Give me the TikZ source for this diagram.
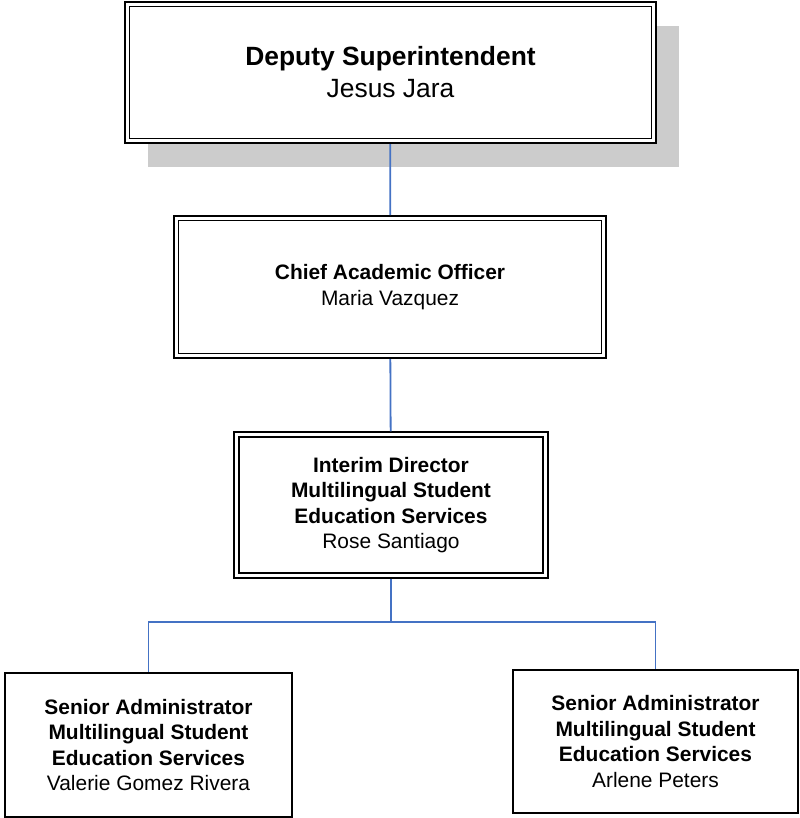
\documentclass[tikz,border=0pt]{standalone}
\usepackage{fontspec}
\setmainfont{Liberation Sans}
\usetikzlibrary{calc, shadows}
\definecolor{linkblue}{RGB}{68,114,196}
\tikzset{box/.style={shape=rectangle, draw, fill=white, align=center,
    line width=1.3bp, inner sep=2bp, font=\fontsize{21}{25.7}\selectfont}}
\tikzset{dbox/.style={box, line width=2bp,
    path picture={\draw[line width=1bp]
      ($(path picture bounding box.north west)+(4.5bp,-4.5bp)$) rectangle
      ($(path picture bounding box.south east)+(-4.5bp,4.5bp)$);}}}
\tikzset{dboxeven/.style={box, line width=1.5bp,
    path picture={\draw[line width=1.8bp]
      ($(path picture bounding box.north west)+(4.8bp,-4.8bp)$) rectangle
      ($(path picture bounding box.south east)+(-4.8bp,4.8bp)$);}}}
\tikzset{link/.style={draw=linkblue, line width=1.8bp}}

\begin{document}
\begin{tikzpicture}[x=1bp, y=1bp]
  \useasboundingbox (0,0) rectangle (800,-818);
  \node[dbox, minimum width=531bp, minimum height=141bp,
    font=\fontsize{26.5}{32}\selectfont,
    drop shadow={shadow xshift=23bp, shadow yshift=-24bp, fill=black!20, opacity=1}]
    (deputy) at (390.5,-72.5) {\textbf{Deputy Superintendent}\\Jesus Jara};
  \node[dbox, minimum width=432bp, minimum height=142bp]
    (chief) at (390,-287) {\textbf{Chief Academic Officer}\\Maria Vazquez};
  \node[dboxeven, minimum width=314bp, minimum height=146bp]
    (director) at (391,-505)
    {\textbf{Interim Director}\\\textbf{Multilingual Student}\\
     \textbf{Education Services}\\Rose Santiago};
  \node[box, minimum width=287bp, minimum height=144bp]
    (seniorL) at (148.5,-745)
    {\textbf{Senior Administrator}\\\textbf{Multilingual Student}\\
     \textbf{Education Services}\\Valerie Gomez Rivera};
  \node[box, minimum width=285bp, minimum height=143bp]
    (seniorR) at (655.5,-741.5)
    {\textbf{Senior Administrator}\\\textbf{Multilingual Student}\\
     \textbf{Education Services}\\Arlene Peters};
  % connectors
  \coordinate (bus) at (391,-622);
  \draw[link] (deputy) -- (chief);
  \draw[link] (chief) -- (director);
  \draw[link] (director) -- (bus) -| (seniorL);
  \draw[link] (bus) -| (seniorR);
\end{tikzpicture}
\end{document}
